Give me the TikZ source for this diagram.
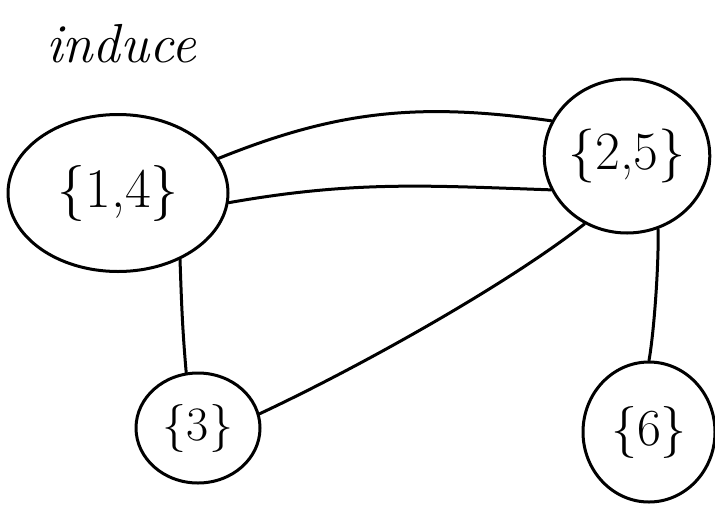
\documentclass[tikz,border=0pt]{standalone}
\usepackage{tikz}
\usetikzlibrary{shapes.geometric}

\begin{document}
\begin{tikzpicture}[
  x=1pt, y=-1pt,
  line width=3pt, line cap=round, line join=round,
  blob/.style={draw, ellipse, inner sep=0pt,
               font=\fontsize{56}{56}\selectfont},
  link/.style={draw, line width=3pt}
]
  \useasboundingbox (0,0) rectangle (715,504);

  % Title.
  \node[font=\fontsize{55}{55}\selectfont\itshape] (title) at (121,44) {induce};

  % The four blocks.
  \node[blob, minimum width=220pt, minimum height=157pt] (b14) at (118,193) {\{1,4\}};
  \node[blob, minimum width=150pt, minimum height=154pt,
        font=\fontsize{54}{54}\selectfont] (b25) at (627,156) {\{2,5\}};
  \node[blob, minimum width=124pt, minimum height=110pt,
        font=\fontsize{48}{48}\selectfont] (b3) at (198,428) {\{3\}};
  \node[blob, minimum width=132pt, minimum height=140pt,
        font=\fontsize{52}{52}\selectfont] (b6) at (649,432) {\{6\}};

  % Links between blocks.
  \draw[link] (b14.19) to[out=22, in=172] (b25.155);
  \draw[link] (b14.-5) to[out=10, in=178] (b25.204);
  \draw[link] (b14.-47) to[out=-88, in=95] (b3.102);
  \draw[link] (b3.13) to[out=25, in=218, looseness=.7] (b25.238);
  \draw[link] (b25.293) to[out=-88, in=80, looseness=.6] (b6.90);
\end{tikzpicture}
\end{document}
